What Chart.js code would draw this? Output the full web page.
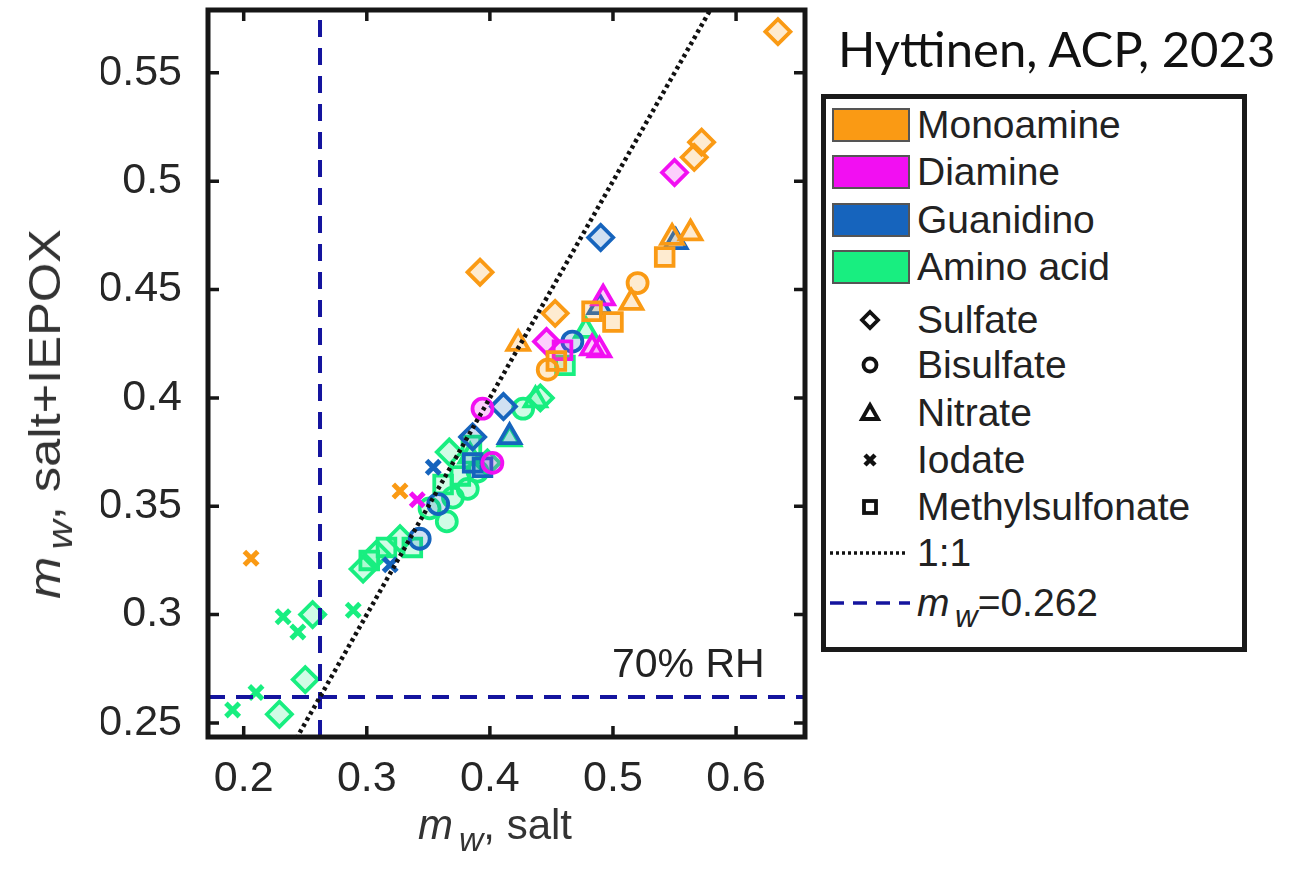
<!DOCTYPE html>
<html>
<head>
<meta charset="utf-8">
<script src="https://cdn.jsdelivr.net/npm/chart.js@4.4.1/dist/chart.umd.min.js"></script>
<style>
  html, body { margin: 0; padding: 0; background: #fff; }
  body { width: 1301px; height: 869px; position: relative; overflow: hidden;
         font-family: "Liberation Sans", Arial, sans-serif; color: #222; }
  #wrap { position: absolute; left: 0; top: -60px; width: 1301px; height: 929px; }
  .txt { position: absolute; white-space: nowrap; line-height: 1; }
  .txt sub { font-size: 0.8em; vertical-align: -0.35em; line-height: 0; margin-left: 0.18em; }
  #cite { left: 838px; top: 24px; font-family: Lato, "Open Sans", sans-serif; font-size: 49px; color: #111; }
  #rh { left: 612px; top: 643px; font-size: 41px; color: #222; }
  #ytitle { left: 45px; top: 414px; font-size: 44px; transform: translate(-50%, -50%) rotate(-90deg) scaleX(1.15); color: #333; }
  #xtitle { left: 418px; top: 804px; font-size: 42px; color: #333; }
  #legend { position: absolute; left: 821px; top: 94px; width: 426px; height: 558px;
            box-sizing: border-box; border: 5px solid #1a1a1a; background: #fff; }
  #legend .row { position: absolute; left: 0; height: 44px; width: 100%; }
  #legend .row span { position: absolute; left: 91px; top: 0; line-height: 44px; font-size: 39px; white-space: nowrap; }
  #legend .patch { position: absolute; left: 6px; top: 5px; width: 78px; height: 34px; box-sizing: border-box; border: 2px solid #555; }
  #legend svg { position: absolute; left: 0; top: 0; }
</style>
</head>
<body>
<div id="wrap"><canvas id="chart" width="1301" height="929"></canvas></div>

<div id="cite" class="txt">Hyttinen, ACP, 2023</div>
<div id="rh" class="txt">70% RH</div>
<div id="ytitle" class="txt"><i>m</i><sub><i>w</i></sub>, salt+IEPOX</div>
<div id="xtitle" class="txt"><i>m</i><sub><i>w</i></sub>, salt</div>
<div id="legend"></div>

<script>
// axis limits and ticks
const xLimits = [0.171, 0.656];
const yLimits = [0.2435, 0.579];
const xTicks = [0.2, 0.3, 0.4, 0.5, 0.6];
const yTicks = [0.25, 0.3, 0.35, 0.4, 0.45, 0.5, 0.55];
const mwThreshold = 0.262;
const oneToOne = [0.15, 0.7];

// [m_w salt, m_w salt+IEPOX, anion]
const monoamine = [
    [0.634, 0.569, 'sulfate'], [0.572, 0.518, 'sulfate'], [0.566, 0.511, 'sulfate'],
    [0.392, 0.458, 'sulfate'], [0.453, 0.439, 'sulfate'],
    [0.423, 0.425, 'nitrate'], [0.563, 0.476, 'nitrate'], [0.548, 0.474, 'nitrate'], [0.515, 0.444, 'nitrate'],
    [0.520, 0.453, 'bisulfate'], [0.447, 0.413, 'bisulfate'],
    [0.542, 0.465, 'methylsulfonate'], [0.500, 0.435, 'methylsulfonate'],
    [0.483, 0.440, 'methylsulfonate'], [0.454, 0.417, 'methylsulfonate'],
    [0.327, 0.357, 'iodate'], [0.206, 0.326, 'iodate']
];
const diamine = [
    [0.550, 0.504, 'sulfate'], [0.446, 0.426, 'sulfate'],
    [0.459, 0.422, 'methylsulfonate'],
    [0.492, 0.446, 'nitrate'], [0.483, 0.423, 'nitrate'], [0.489, 0.422, 'nitrate'],
    [0.394, 0.395, 'bisulfate'], [0.402, 0.370, 'bisulfate'],
    [0.341, 0.353, 'iodate']
];
const guanidino = [
    [0.490, 0.474, 'sulfate'], [0.411, 0.396, 'sulfate'], [0.386, 0.382, 'sulfate'],
    [0.551, 0.472, 'nitrate'], [0.489, 0.442, 'nitrate'], [0.416, 0.382, 'nitrate'],
    [0.467, 0.426, 'bisulfate'], [0.343, 0.335, 'bisulfate'], [0.358, 0.351, 'bisulfate'],
    [0.386, 0.370, 'methylsulfonate'], [0.394, 0.368, 'methylsulfonate'],
    [0.354, 0.368, 'iodate'], [0.319, 0.323, 'iodate']
];
const aminoAcid = [
    [0.229, 0.254, 'sulfate'], [0.250, 0.270, 'sulfate'], [0.256, 0.300, 'sulfate'],
    [0.297, 0.321, 'sulfate'], [0.308, 0.328, 'sulfate'], [0.327, 0.335, 'sulfate'],
    [0.367, 0.375, 'sulfate'], [0.441, 0.400, 'sulfate'], [0.398, 0.370, 'sulfate'],
    [0.316, 0.331, 'methylsulfonate'], [0.302, 0.325, 'methylsulfonate'], [0.337, 0.331, 'methylsulfonate'],
    [0.362, 0.360, 'methylsulfonate'], [0.376, 0.364, 'methylsulfonate'], [0.461, 0.415, 'methylsulfonate'],
    [0.385, 0.378, 'methylsulfonate'],
    [0.370, 0.354, 'bisulfate'], [0.382, 0.358, 'bisulfate'], [0.351, 0.349, 'bisulfate'],
    [0.427, 0.395, 'bisulfate'], [0.390, 0.366, 'bisulfate'], [0.365, 0.343, 'bisulfate'],
    [0.416, 0.381, 'nitrate'], [0.478, 0.431, 'nitrate'], [0.437, 0.399, 'nitrate'], [0.384, 0.373, 'nitrate'],
    [0.191, 0.256, 'iodate'], [0.210, 0.264, 'iodate'], [0.232, 0.299, 'iodate'],
    [0.244, 0.292, 'iodate'], [0.289, 0.302, 'iodate']
];

const FONT = '"Liberation Sans", Arial, sans-serif';
const NAVY = '#14149e';
const cations = [
    { label: 'Monoamine', rows: monoamine, color: '#FA9A14' },
    { label: 'Diamine', rows: diamine, color: '#F20FF2' },
    { label: 'Guanidino', rows: guanidino, color: '#1664BD' },
    { label: 'Amino acid', rows: aminoAcid, color: '#18EE80' }
];
const shapes = { sulfate: 'rectRot', bisulfate: 'circle', nitrate: 'triangle', iodate: 'crossRot', methylsulfonate: 'rect' };
const radii = { sulfate: 12.5, bisulfate: 10, nitrate: 12.5, iodate: 9.5, methylsulfonate: 12.5 };

function anionOf(c) { return c.raw ? c.raw.anion : 'bisulfate'; }

function scatterSet(group) {
    return {
        label: group.label,
        data: group.rows.map(r => ({ x: r[0], y: r[1], anion: r[2] })),
        pointStyle: c => shapes[anionOf(c)],
        pointRadius: c => radii[anionOf(c)],
        pointBorderWidth: c => anionOf(c) === 'iodate' ? 5 : 3.8,
        pointBorderColor: group.color,
        pointBackgroundColor: group.color + '33'
    };
}

function lineSet(points, color, dash, width) {
    return {
        data: points, showLine: true, pointRadius: 0,
        borderColor: color, borderWidth: width, borderDash: dash, fill: false
    };
}

// frame with inward ticks on all four sides (matlab box)
const frameTicks = {
    id: 'frameTicks',
    afterDraw(chart) {
        const { ctx, chartArea: a, scales: { x, y } } = chart;
        ctx.save();
        ctx.strokeStyle = '#161616';
        ctx.lineWidth = 3.5;
        ctx.beginPath();
        x.ticks.forEach(t => {
            const px = x.getPixelForValue(t.value);
            ctx.moveTo(px, a.bottom); ctx.lineTo(px, a.bottom - 11);
            ctx.moveTo(px, a.top); ctx.lineTo(px, a.top + 11);
        });
        y.ticks.forEach(t => {
            const py = y.getPixelForValue(t.value);
            ctx.moveTo(a.left, py); ctx.lineTo(a.left + 11, py);
            ctx.moveTo(a.right, py); ctx.lineTo(a.right - 11, py);
        });
        ctx.stroke();
        ctx.lineWidth = 5;
        ctx.strokeRect(a.left, a.top, a.right - a.left, a.bottom - a.top);
        ctx.restore();
    }
};

function axis(limits, ticks, pad, fit) {
    return {
        type: 'linear', min: limits[0], max: limits[1],
        grid: { display: false, drawTicks: false },
        border: { display: false },
        ticks: { font: { family: FONT, size: 43 }, color: '#262626', padding: pad, callback: v => String(v) },
        afterBuildTicks: s => { s.ticks = ticks.map(v => ({ value: v })); },
        afterFit: fit
    };
}

new Chart(document.getElementById('chart'), {
    type: 'scatter',
    data: {
        datasets: [
            lineSet(oneToOne.map(v => ({ x: v, y: v })), '#111', [3.5, 3.5], 4.5),
            lineSet(yLimits.map(v => ({ x: mwThreshold, y: v })), NAVY, [17, 11], 4),
            lineSet(xLimits.map(v => ({ x: v, y: mwThreshold })), NAVY, [17, 11], 4),
            ...cations.map(scatterSet)
        ]
    },
    options: {
        responsive: false,
        animation: false,
        layout: { padding: { left: 101, right: 496, top: 70, bottom: 52 } },
        plugins: { legend: { display: false }, tooltip: { enabled: false } },
        scales: {
            x: axis(xLimits, xTicks, 16, s => { s.height = 80; }),
            y: axis(yLimits, yTicks, 26, s => { s.width = 107; })
        }
    },
    plugins: [frameTicks]
});

// legend box, drawn as html
const legend = document.getElementById('legend');
const rowTops = [125, 172, 220, 267, 320, 365, 413, 460, 507, 553, 603].map(c => c - 99 - 22);
const anionRows = [
    ['Sulfate', '<path d="M12 4 L20 12 L12 20 L4 12 Z"/>'],
    ['Bisulfate', '<circle cx="12" cy="12" r="6.5"/>'],
    ['Nitrate', '<path d="M12 4 L20 18 L4 18 Z"/>'],
    ['Iodate', '<path d="M7 7 L17 17 M17 7 L7 17" stroke-width="4.5"/>'],
    ['Methylsulfonate', '<rect x="6" y="6" width="12" height="12"/>']
];
let html = '';
cations.forEach((g, i) => {
    html += `<div class="row" style="top:${rowTops[i]}px"><div class="patch" style="background:${g.color}"></div><span>${g.label}</span></div>`;
});
anionRows.forEach((r, i) => {
    html += `<div class="row" style="top:${rowTops[4 + i]}px"><svg width="100" height="44"><g transform="translate(32,10)" fill="none" stroke="#111" stroke-width="3.8">${r[1]}</g></svg><span>${r[0]}</span></div>`;
});
html += `<div class="row" style="top:${rowTops[9]}px"><svg width="100" height="44"><line x1="4" y1="22" x2="80" y2="22" stroke="#111" stroke-width="3.5" stroke-dasharray="3 3"/></svg><span>1:1</span></div>`;
html += `<div class="row" style="top:${rowTops[10]}px"><svg width="100" height="44"><line x1="4" y1="22" x2="84" y2="22" stroke="${NAVY}" stroke-width="3.5" stroke-dasharray="14 9"/></svg><span class="txt" style="position:absolute"><i>m</i><sub><i>w</i></sub>=0.262</span></div>`;
legend.innerHTML = html;
</script>
</body>
</html>
